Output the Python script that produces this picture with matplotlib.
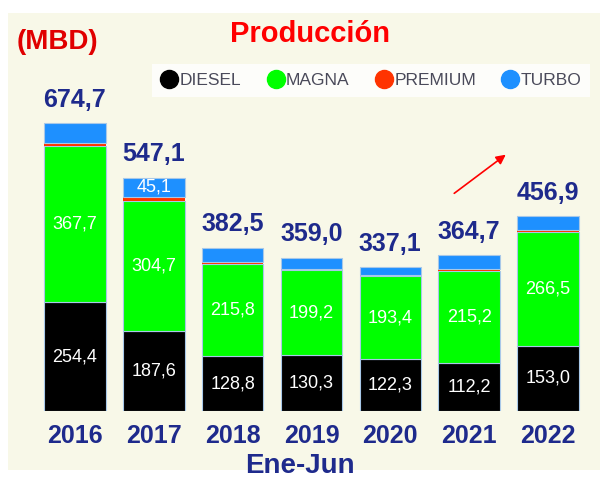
import numpy as np
import matplotlib.pyplot as plt
from matplotlib.lines import Line2D
from matplotlib.patches import Rectangle, FancyArrowPatch

plt.rcParams['font.family'] = ['Liberation Sans', 'DejaVu Sans']

years = ['2016', '2017', '2018', '2019', '2020', '2021', '2022']
diesel = [254.4, 187.6, 128.8, 130.3, 122.3, 112.2, 153.0]
magna = [367.7, 304.7, 215.8, 199.2, 193.4, 215.2, 266.5]
premium = [7.0, 9.7, 5.0, 4.0, 4.0, 5.0, 5.0]
turbo = [45.6, 45.1, 32.9, 25.5, 17.4, 32.3, 32.4]
totals = [674.7, 547.1, 382.5, 359.0, 337.1, 364.7, 456.9]

navy = '#1E2A8C'
fig = plt.figure(figsize=(6, 4.8), dpi=100)
fig.patches.append(Rectangle((0.013, 0.021), 0.987, 0.952, transform=fig.transFigure,
                             facecolor='#F8F8E8', edgecolor='none', zorder=-5))

ax = fig.add_axes([0.0593, 0.1437, 0.9197, 0.711])
ax.set_facecolor('none')
ax.set_zorder(2)
x = np.arange(len(years))
w = 0.78
ec = '#A8C8E8'
ax.bar(x, diesel, w, color='black', edgecolor=ec, linewidth=0.8)
ax.bar(x, magna, w, bottom=diesel, color='#00FF00', edgecolor=ec, linewidth=0.8)
bot3 = np.array(diesel) + np.array(magna)
ax.bar(x, premium, w, bottom=bot3, color='#FF3300', edgecolor='none')
bot4 = bot3 + np.array(premium)
ax.bar(x, turbo, w, bottom=bot4, color='#1E90FF', edgecolor=ec, linewidth=0.8)

fmt = lambda v: f'{v:.1f}'.replace('.', ',')
for i in x:
    ax.text(i, diesel[i] / 2, fmt(diesel[i]), color='white',
            ha='center', va='center', fontsize=13)
    ax.text(i, diesel[i] + magna[i] / 2, fmt(magna[i]), color='white',
            ha='center', va='center', fontsize=13)
    ax.text(i, totals[i] + 55, fmt(totals[i]), color=navy,
            ha='center', va='center', fontsize=18, fontweight='bold')
ax.text(1, bot4[1] + turbo[1] / 2, fmt(turbo[1]), color='white', ha='center', va='center',
        fontsize=13)

ax.set_xlim(-0.5, 6.5)
ax.set_ylim(0, 800)
ax.set_xticks(x)
ax.set_xticklabels(years, color=navy, fontsize=18, fontweight='bold')
ax.tick_params(axis='x', length=0, pad=9)
ax.set_yticks([])
for s in ax.spines.values():
    s.set_visible(False)

fig.text(0.5, 0.003, 'Ene-Jun', color=navy, fontsize=20, fontweight='bold',
         ha='center', va='bottom')
fig.text(0.517, 0.93, 'Producción', color='#FF0000', fontsize=21, fontweight='bold',
         ha='center', va='center')
fig.text(0.095, 0.912, '(MBD)', color='#E00000', fontsize=20, fontweight='bold',
         ha='center', va='center')

arrow = FancyArrowPatch((452, 480 - 195), (508, 480 - 153), transform=None,
                        arrowstyle='-|>', mutation_scale=14, color='#FF0000', lw=1.2)
fig.patches.append(arrow)

handles = [Line2D([], [], marker='o', linestyle='none', markersize=13, color=c)
           for c in ['black', '#00FF00', '#FF3300', '#1E90FF']]
leg = fig.legend(handles, ['DIESEL', 'MAGNA', 'PREMIUM', 'TURBO'], loc='center',
                 bbox_to_anchor=(152 / 600, 1 - 104 / 480, 438 / 600, 47 / 480),
                 mode='expand', ncol=4, frameon=True, fancybox=False,
                 handletextpad=0.1, columnspacing=0.5, handlelength=1.0,
                 fontsize=12.5, borderpad=0.5, borderaxespad=0)
leg.get_frame().set_facecolor('white')
leg.get_frame().set_edgecolor('none')
for t in leg.get_texts():
    t.set_color('#4A4A5A')

fig.savefig('out.png', dpi=100)
